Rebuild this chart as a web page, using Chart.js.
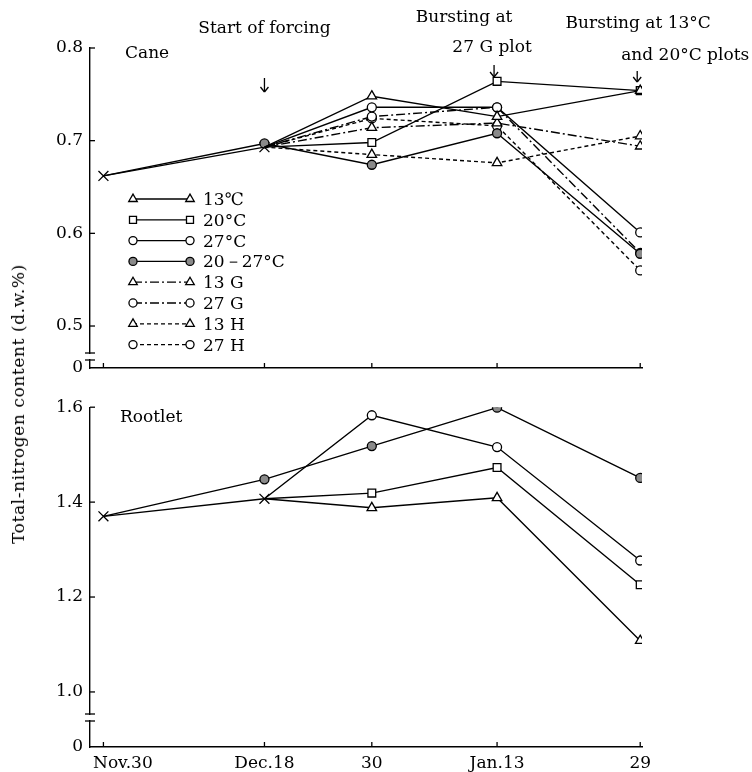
<!DOCTYPE html>
<html>
<head>
<meta charset="utf-8">
<script src="https://cdn.jsdelivr.net/npm/chart.js@4.4.1/dist/chart.umd.min.js"></script>
<style>
  body { margin: 0; background: #fff; }
  #page { position: relative; width: 752px; height: 772px; }
  .panel { position: absolute; left: 0; width: 752px; }
  #canePanel { top: 0; height: 390px; }
  #rootPanel { top: 390px; height: 382px; }
  #yTitle {
    position: absolute; left: 18px; top: 404px;
    transform: translate(-50%, -50%) rotate(-90deg);
    white-space: nowrap; font: 17px 'DejaVu Serif', serif; letter-spacing: 0.6px; color: #000;
  }
</style>
</head>
<body>
<div id="page">
  <div class="panel" id="canePanel"><canvas id="caneChart"></canvas></div>
  <div class="panel" id="rootPanel"><canvas id="rootChart"></canvas></div>
  <div id="yTitle">Total-nitrogen content (d.w.%)</div>
</div>
<script>
// sampling dates, as days after Nov.30
const days = [0, 18, 30, 44, 60];
const dayLabels = ['Nov.30', 'Dec.18', '30', 'Jan.13', '29'];
const treatments = ['13℃', '20°C', '27°C', '20－27°C', '13 G', '27 G', '13 H', '27 H'];

// Cane total-N (d.w.%), null = no sample
const caneStart = [0.662, 0.693, null, null, null];
const cane13C  = [null, 0.693, 0.748, 0.726, 0.754];
const cane20C  = [null, 0.693, 0.698, 0.764, 0.754];
const cane27C  = [null, 0.693, 0.736, 0.736, 0.601];
const cane2027 = [0.662, 0.697, 0.674, 0.708, 0.578];
const cane13G  = [null, 0.693, 0.714, 0.719, 0.694];
const cane27G  = [null, 0.693, 0.726, 0.736, 0.579];
const cane13H  = [null, 0.693, 0.685, 0.676, 0.705];
const cane27H  = [null, 0.693, 0.724, 0.716, 0.560];
const caneTicks = [0.5, 0.6, 0.7, 0.8];

// Rootlet total-N (d.w.%)
const rootStart = [1.370, 1.407, null, null, null];
const root13C  = [null, 1.407, 1.388, 1.409, 1.108];
const root20C  = [null, 1.407, 1.419, 1.473, 1.226];
const root27C  = [null, 1.407, 1.583, 1.516, 1.277];
const root2027 = [1.370, 1.448, 1.518, 1.599, 1.451];
const rootTicks = [1.0, 1.2, 1.4, 1.6];

// event notes above the cane panel
const noteDays = [18, 44, 60];
const noteText = [['Start of forcing'], ['Bursting at', '27 G plot'], ['Bursting at 13°C', 'and 20°C plots']];

const serif = "'DejaVu Serif', 'Liberation Serif', serif";
const solid = [], dashDot = [9, 3, 2, 3], dashed = [4, 3];

const marks = {
  tri:   { pointStyle: 'triangle', radius: 5.5, fill: '#fff' },
  sq:    { pointStyle: 'rect', radius: 5.5, fill: '#fff' },
  ring:  { pointStyle: 'circle', radius: 4.5, fill: '#fff' },
  dot:   { pointStyle: 'circle', radius: 4.5, fill: '#8a8a8a' },
  cross: { pointStyle: 'crossRot', radius: 7, fill: '#fff' }
};

function series(label, values, mark, dash, firstMark) {
  const m = marks[mark];
  return {
    label: label,
    data: values.map((v, i) => ({ x: days[i], y: v })),
    borderColor: '#000',
    borderWidth: 1.4,
    borderDash: dash,
    pointStyle: m.pointStyle,
    pointRadius: values.map((v, i) => i < firstMark ? 0 : m.radius),
    pointBackgroundColor: m.fill,
    pointBorderColor: '#000',
    pointBorderWidth: 1.3,
    tension: 0,
    fill: false
  };
}

function line(ctx, x1, y1, x2, y2) {
  ctx.beginPath();
  ctx.moveTo(x1, y1);
  ctx.lineTo(x2, y2);
  ctx.stroke();
}

function arrow(ctx, x, y1, y2) {
  line(ctx, x, y1, x, y2);
  line(ctx, x - 4, y2 - 5, x, y2);
  line(ctx, x + 4, y2 - 5, x, y2);
}

const panelPlugin = {
  id: 'panel',
  afterDraw(chart, args, opts) {
    const { ctx, chartArea: a, scales: { x, y } } = chart;
    ctx.save();
    ctx.strokeStyle = '#000';
    ctx.fillStyle = '#000';
    ctx.lineWidth = 1.3;

    // tick marks point into the plot
    days.forEach(d => {
      const px = x.getPixelForValue(d);
      line(ctx, px, a.bottom, px, a.bottom - 5);
    });
    y.ticks.forEach(t => {
      if (t.value > y.min) {
        const py = y.getPixelForValue(t.value);
        line(ctx, a.left, py, a.left + 5, py);
      }
    });

    // broken y axis above the zero
    const b1 = a.bottom - opts.gap[0], b2 = a.bottom - opts.gap[1];
    ctx.fillStyle = '#fff';
    ctx.fillRect(a.left - 3, b1 + 1, 6, b2 - b1 - 2);
    line(ctx, a.left - 5, b1, a.left + 5, b1);
    line(ctx, a.left - 5, b2, a.left + 5, b2);

    ctx.fillStyle = '#000';
    ctx.font = '17px ' + serif;
    ctx.textBaseline = 'alphabetic';
    ctx.textAlign = 'left';
    ctx.fillText(opts.name, a.left + opts.nameAt[0], a.top + opts.nameAt[1]);

    if (opts.xLabels) {
      dayLabels.forEach((lab, i) => {
        const px = x.getPixelForValue(days[i]);
        ctx.textAlign = i === 0 ? 'left' : 'center';
        ctx.fillText(lab, i === 0 ? a.left + 3 : px, a.bottom + 21);
      });
    }

    if (opts.legend) {
      treatments.forEach((name, i) => {
        const ds = chart.data.datasets.find(d => d.label === name);
        const yy = 199 + i * 20.8;
        const r = Math.max(...ds.pointRadius) * 0.9;
        ctx.setLineDash(ds.borderDash);
        line(ctx, 133, yy, 190, yy);
        ctx.setLineDash([]);
        [133, 190].forEach(px => {
          ctx.fillStyle = ds.pointBackgroundColor;
          Chart.helpers.drawPoint(ctx, { pointStyle: ds.pointStyle, radius: r, rotation: 0, borderWidth: 1.2 }, px, yy);
        });
        ctx.fillStyle = '#000';
        ctx.textAlign = 'left';
        ctx.fillText(name, 203, yy + 6);
      });
    }

    if (opts.notes) {
      ctx.textAlign = 'center';
      const px = noteDays.map(d => x.getPixelForValue(d));
      ctx.fillText(noteText[0][0], px[0], 33);
      arrow(ctx, px[0], 78, 92);
      ctx.fillText(noteText[1][0], px[1] - 33, 22);
      ctx.fillText(noteText[1][1], px[1] - 5, 52);
      arrow(ctx, px[1] - 3, 65, 77);
      ctx.fillText(noteText[2][0], px[2] - 2, 28);
      ctx.fillText(noteText[2][1], px[2] + 45, 60);
      arrow(ctx, px[2] - 3, 71, 82);
    }
    ctx.restore();
  }
};

function makePanel(id, datasets, yMin, yMax, yTicks, padTop, xHeight, panelOpts) {
  return new Chart(document.getElementById(id).getContext('2d'), {
    type: 'line',
    data: { datasets: datasets },
    plugins: [panelPlugin],
    options: {
      responsive: true,
      maintainAspectRatio: false,
      animation: false,
      events: [],
      layout: { padding: { left: 0, right: 110, top: padTop, bottom: 0 } },
      plugins: {
        legend: { display: false },
        tooltip: { enabled: false },
        panel: panelOpts
      },
      scales: {
        x: {
          type: 'linear',
          min: -1.5,
          max: 60.2,
          afterBuildTicks: s => { s.ticks = days.map(v => ({ value: v })); },
          ticks: { display: false },
          grid: { display: false, drawTicks: false },
          border: { display: true, color: '#000', width: 1.4 },
          afterFit: s => { s.height = xHeight; }
        },
        y: {
          min: yMin,
          max: yMax,
          afterBuildTicks: s => { s.ticks = [yMin].concat(yTicks).map(v => ({ value: v })); },
          ticks: {
            callback: v => v === yMin ? '0' : v.toFixed(1),
            font: { family: serif, size: 17 },
            color: '#000',
            padding: 7
          },
          grid: { display: false, drawTicks: false },
          border: { display: true, color: '#000', width: 1.4 },
          afterFit: s => { s.width = 90; }
        }
      }
    }
  });
}

makePanel('caneChart', [
  series(treatments[0], cane13C, 'tri', solid, 2),
  series(treatments[1], cane20C, 'sq', solid, 2),
  series(treatments[2], cane27C, 'ring', solid, 2),
  series(treatments[3], cane2027, 'dot', solid, 1),
  series(treatments[4], cane13G, 'tri', dashDot, 2),
  series(treatments[5], cane27G, 'ring', dashDot, 2),
  series(treatments[6], cane13H, 'tri', dashed, 2),
  series(treatments[7], cane27H, 'ring', dashed, 2),
  series('Initial', caneStart, 'cross', solid, 0)
], 0.4547, 0.8, caneTicks, 48, 22,
  { name: 'Cane', nameAt: [35, 10], gap: [15, 8], legend: true, notes: true, xLabels: false });

makePanel('rootChart', [
  series(treatments[0], root13C, 'tri', solid, 2),
  series(treatments[1], root20C, 'sq', solid, 2),
  series(treatments[2], root27C, 'ring', solid, 2),
  series(treatments[3], root2027, 'dot', solid, 1),
  series('Initial', rootStart, 'cross', solid, 0)
], 0.884, 1.6, rootTicks, 17, 25,
  { name: 'Rootlet', nameAt: [30, 15], gap: [33, 26], legend: false, notes: false, xLabels: true });
</script>
</body>
</html>
